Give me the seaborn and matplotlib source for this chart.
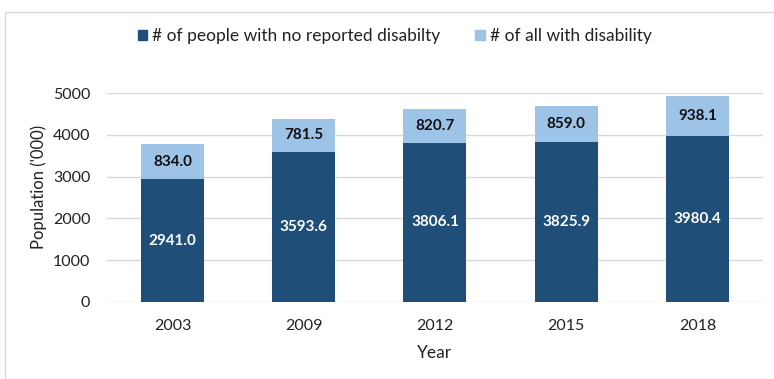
import pandas as pd
import seaborn as sns
import matplotlib.pyplot as plt
from matplotlib.patches import Rectangle

years = ["2003", "2009", "2012", "2015", "2018"]
no_disability = [2941.0, 3593.6, 3806.1, 3825.9, 3980.4]
with_disability = [834.0, 781.5, 820.7, 859.0, 938.1]

dark_blue = "#1F4E79"
light_blue = "#9DC3E6"

df = pd.DataFrame(
    {
        "year": years,
        "no_dis": no_disability,
        "dis": with_disability,
    }
)
df["total"] = df["no_dis"] + df["dis"]

sns.set_style("white")
plt.rcParams["font.family"] = ["Lato", "DejaVu Sans"]

fig = plt.figure(figsize=(7.74, 3.79), dpi=100)
ax = fig.add_axes([0.1382, 0.2032, 0.8476, 0.5514])

# Stacked bars: full height in light blue, lower part overdrawn in dark blue
sns.barplot(data=df, x="year", y="total", color=light_blue, width=0.48,
            saturation=1, linewidth=0, ax=ax, zorder=2)
sns.barplot(data=df, x="year", y="no_dis", color=dark_blue, width=0.48,
            saturation=1, linewidth=0, ax=ax, zorder=3)

# Value labels centred in each segment
for i, row in df.iterrows():
    ax.text(i, row["no_dis"] / 2, f"{row['no_dis']:.1f}", ha="center",
            va="center", color="white", fontsize=11, fontweight="bold", zorder=4)
    ax.text(i, row["no_dis"] + row["dis"] / 2, f"{row['dis']:.1f}",
            ha="center", va="center", color="#111111", fontsize=11,
            fontweight="bold", zorder=4)

ax.set_ylim(0, 5000)
ax.set_xlim(-0.5, 4.5)
ax.set_yticks([0, 1000, 2000, 3000, 4000, 5000])
ax.yaxis.grid(True, color="#D9D9D9", linewidth=1)
ax.set_axisbelow(True)
for s in ax.spines.values():
    s.set_visible(False)
ax.tick_params(axis="both", length=0, labelsize=11.5, labelcolor="#222222")
ax.tick_params(axis="y", pad=12)
ax.tick_params(axis="x", pad=12)
ax.set_xlabel("Year", fontsize=12.5, color="#222222", labelpad=9)
ax.set_ylabel("Population ('000)", fontsize=12, color="#222222",
              labelpad=4, y=0.55)

handles = [
    Rectangle((0, 0), 1, 1, color=dark_blue),
    Rectangle((0, 0), 1, 1, color=light_blue),
]
fig.legend(handles, ["# of people with no reported disabilty", "# of all with disability"],
           loc="center", bbox_to_anchor=(0.51, 0.905), ncol=2, frameon=False,
           fontsize=12.5, handlelength=0.55, handleheight=0.55, handletextpad=0.3,
           columnspacing=2.0, labelcolor="#222222")

# Chart area border
fig.patches.append(Rectangle((5 / 774, -0.05), 1.0, 1 - 12 / 379 + 0.05,
                             transform=fig.transFigure, fill=False,
                             edgecolor="#D9D9D9", linewidth=1))

fig.savefig("out.png", dpi=100)
